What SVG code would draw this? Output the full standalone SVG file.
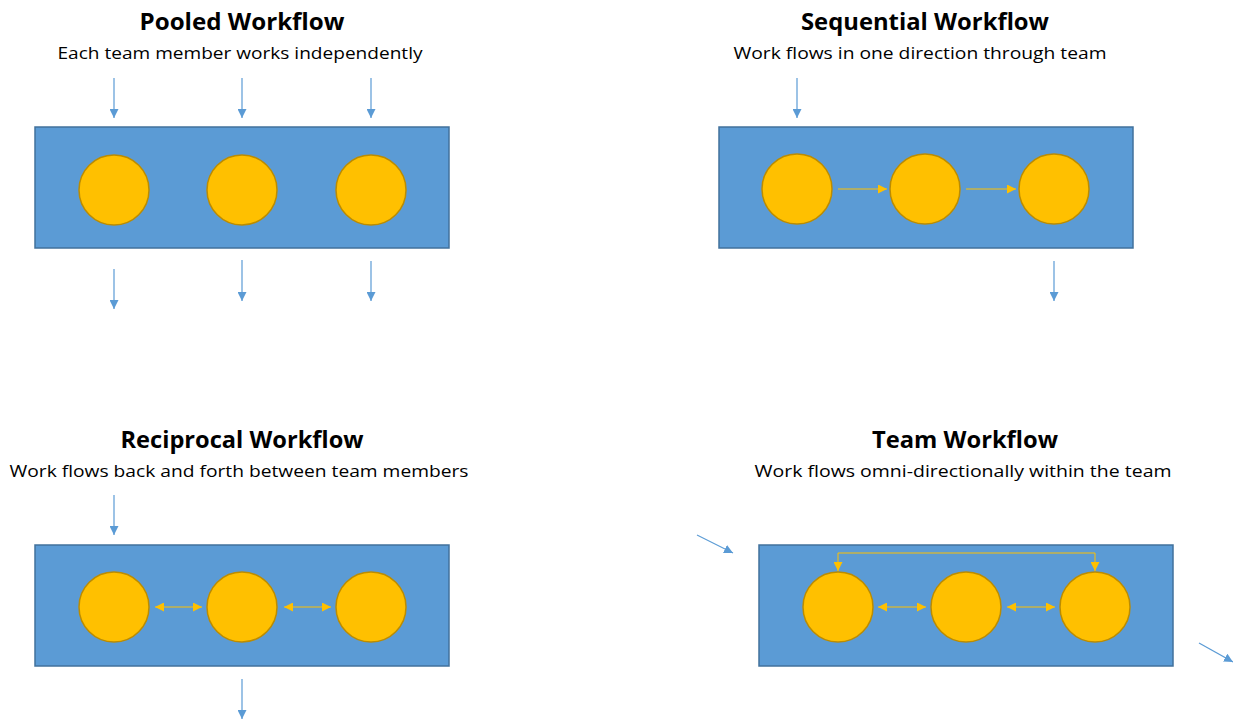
<svg xmlns="http://www.w3.org/2000/svg" width="1233" height="719" viewBox="0 0 1233 719">
<style>
.title{font-family:"Open Sans","Liberation Sans",sans-serif;font-weight:bold;font-size:23px;fill:#000;text-anchor:middle}
.sub{font-family:"Open Sans","Liberation Sans",sans-serif;font-size:17px;fill:#000;text-anchor:middle}
.box{fill:#5B9BD5;stroke:#41719C;stroke-width:1.5}
.mem{fill:#FFC000;stroke:#BC8C00;stroke-width:1.5}
.blue{stroke:#5B9BD5;stroke-width:1.2;fill:none;marker-end:url(#ab)}
.yel{stroke:#FFC000;stroke-width:1;fill:none;marker-end:url(#ay)}
.yel2{stroke:#FFC000;stroke-width:1;fill:none;marker-end:url(#ay);marker-start:url(#ays)}
</style>
<defs>
<marker id="ab" viewBox="0 0 10 10" refX="10" refY="5" markerWidth="9" markerHeight="9" markerUnits="userSpaceOnUse" orient="auto"><path d="M0,0 L10,5 L0,10 Z" fill="#5B9BD5"/></marker>
<marker id="ay" viewBox="0 0 10 10" refX="10" refY="5" markerWidth="9" markerHeight="9" markerUnits="userSpaceOnUse" orient="auto"><path d="M0,0 L10,5 L0,10 Z" fill="#FFC000"/></marker>
<marker id="ays" viewBox="0 0 10 10" refX="0" refY="5" markerWidth="9" markerHeight="9" markerUnits="userSpaceOnUse" orient="auto"><path d="M10,0 L0,5 L10,10 Z" fill="#FFC000"/></marker>
</defs>

<g id="pooled">
<text class="title" x="242" y="30" textLength="205" lengthAdjust="spacingAndGlyphs">Pooled Workflow</text>
<text class="sub" x="240" y="59" textLength="365" lengthAdjust="spacingAndGlyphs">Each team member works independently</text>
<rect class="box" x="35" y="127" width="414" height="121"/>
<circle class="mem" cx="114" cy="190" r="35"/>
<circle class="mem" cx="242" cy="190" r="35"/>
<circle class="mem" cx="371" cy="190" r="35"/>
</g>

<g id="sequential">
<text class="title" x="925" y="30" textLength="248" lengthAdjust="spacingAndGlyphs">Sequential Workflow</text>
<text class="sub" x="920" y="59" textLength="373" lengthAdjust="spacingAndGlyphs">Work flows in one direction through team</text>
<rect class="box" x="719" y="127" width="414" height="121"/>
<circle class="mem" cx="797" cy="189" r="35"/>
<circle class="mem" cx="925" cy="189" r="35"/>
<circle class="mem" cx="1054" cy="189" r="35"/>
</g>

<g id="reciprocal">
<text class="title" x="242" y="448" textLength="243" lengthAdjust="spacingAndGlyphs">Reciprocal Workflow</text>
<text class="sub" x="239" y="477" textLength="459" lengthAdjust="spacingAndGlyphs">Work flows back and forth between team members</text>
<rect class="box" x="35" y="545" width="414" height="121"/>
<circle class="mem" cx="114" cy="607" r="35"/>
<circle class="mem" cx="242" cy="607" r="35"/>
<circle class="mem" cx="371" cy="607" r="35"/>
</g>

<g id="team">
<text class="title" x="965" y="448" textLength="186" lengthAdjust="spacingAndGlyphs">Team Workflow</text>
<text class="sub" x="963" y="477" textLength="417" lengthAdjust="spacingAndGlyphs">Work flows omni-directionally within the team</text>
<rect class="box" x="759" y="545" width="414" height="121"/>
<circle class="mem" cx="838" cy="607" r="35"/>
<circle class="mem" cx="966" cy="607" r="35"/>
<circle class="mem" cx="1095" cy="607" r="35"/>
</g>

<g id="connectors">
<line class="blue" x1="114" y1="78" x2="114" y2="118"/>
<line class="blue" x1="242" y1="78" x2="242" y2="118"/>
<line class="blue" x1="371" y1="78" x2="371" y2="118"/>
<line class="blue" x1="114" y1="269" x2="114" y2="309"/>
<line class="blue" x1="242" y1="260" x2="242" y2="301"/>
<line class="blue" x1="371" y1="261" x2="371" y2="301"/>

<line class="blue" x1="797" y1="78" x2="797" y2="118"/>
<line class="blue" x1="1054" y1="261" x2="1054" y2="301"/>
<line class="yel" x1="838" y1="189" x2="887" y2="189"/>
<line class="yel" x1="966" y1="189" x2="1016" y2="189"/>

<line class="blue" x1="114" y1="495" x2="114" y2="535"/>
<line class="blue" x1="242" y1="679" x2="242" y2="719"/>
<line class="yel2" x1="155" y1="607" x2="202" y2="607"/>
<line class="yel2" x1="284" y1="607" x2="331" y2="607"/>

<line class="blue" x1="697" y1="535" x2="733" y2="553"/>
<line class="blue" x1="1199" y1="643" x2="1233" y2="662"/>
<line class="yel2" x1="878" y1="607" x2="926" y2="607"/>
<line class="yel2" x1="1007" y1="607" x2="1055" y2="607"/>
<path class="yel2" d="M838,571 V553 H1095 V571"/>
</g>
</svg>
